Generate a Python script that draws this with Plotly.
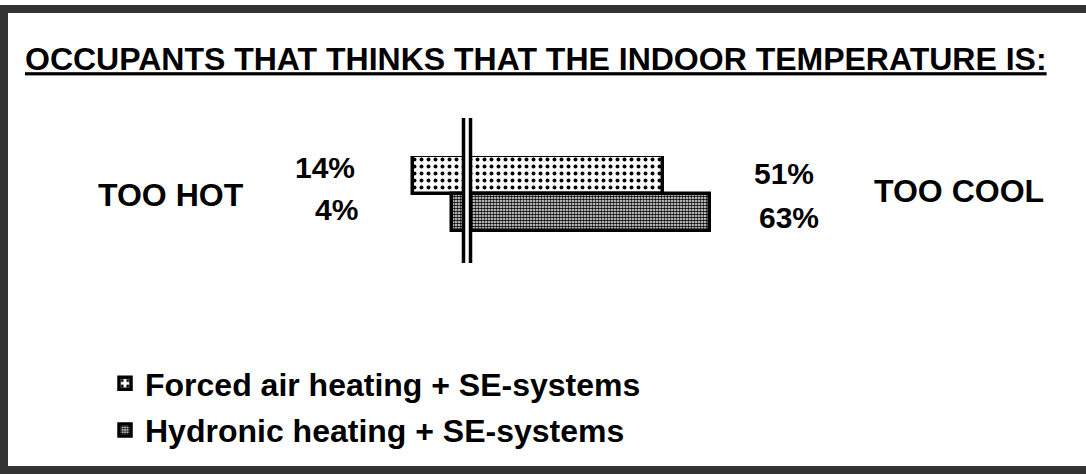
import plotly.graph_objects as go

# ---- data ----
categories = ["Forced air heating + SE-systems", "Hydronic heating + SE-systems"]
too_hot = [14, 4]      # % occupants: too hot
too_cool = [51, 63]    # % occupants: too cool
title_text = "OCCUPANTS THAT THINKS THAT THE INDOOR TEMPERATURE IS:"
left_label = "TOO HOT"
right_label = "TOO COOL"

W, H = 1086, 474
FONT = "Liberation Sans, Arial, Helvetica, sans-serif"

patterns = [
    dict(shape=".", fgcolor="black", bgcolor="white", size=7, solidity=0.25, fillmode="replace"),
    dict(shape=".", fgcolor="black", bgcolor="white", size=3, solidity=0.6, fillmode="replace"),
]

fig = go.Figure()
for i, cat in enumerate(categories):
    fig.add_trace(go.Bar(
        y=[cat],
        x=[too_hot[i] + too_cool[i]],
        base=[-too_hot[i]],
        orientation="h",
        name=cat,
        legendgroup=f"g{i}",
        width=1.0,
        marker=dict(color="white", line=dict(color="black", width=3.5), pattern=patterns[i]),
        hoverinfo="name",
    ))

def px_x(p):
    return p / W

def px_y(p):
    return (H - p) / H

annotations = []
# percentage labels
hot_x = [357, 360]
cool_x = [752, 757]
hot_shift = [7, 3]
cool_shift = [1, -5]
for i, cat in enumerate(categories):
    annotations.append(dict(
        text=f"{too_hot[i]}%", xref="paper", yref="y", x=px_x(hot_x[i]), y=cat,
        xanchor="right", yanchor="middle", yshift=hot_shift[i], showarrow=False,
        font=dict(size=30, family=FONT, color="black", weight="bold")))
    annotations.append(dict(
        text=f"{too_cool[i]}%", xref="paper", yref="y", x=px_x(cool_x[i]), y=cat,
        xanchor="left", yanchor="middle", yshift=cool_shift[i], showarrow=False,
        font=dict(size=30, family=FONT, color="black", weight="bold")))

annotations.append(dict(
    text=left_label, xref="paper", yref="paper", x=px_x(96), y=px_y(195),
    xanchor="left", yanchor="middle", showarrow=False,
    font=dict(size=32, family=FONT, color="black", weight="bold")))
annotations.append(dict(
    text=right_label, xref="paper", yref="paper", x=px_x(872), y=px_y(191),
    xanchor="left", yanchor="middle", showarrow=False,
    font=dict(size=32, family=FONT, color="black", weight="bold")))

shapes = [
    # outer frame
    dict(type="rect", xref="paper", yref="paper", x0=px_x(4), x1=px_x(1110),
         y0=px_y(470), y1=px_y(9), line=dict(color="#333333", width=8), layer="below"),
    # white gap at zero
    dict(type="line", xref="x", yref="paper", xsizemode="pixel", xanchor=0,
         x0=0, x1=0, y0=px_y(263), y1=px_y(118), line=dict(color="white", width=4), layer="above"),
    # double zero line
    dict(type="line", xref="x", yref="paper", xsizemode="pixel", xanchor=0,
         x0=-3.5, x1=-3.5, y0=px_y(263), y1=px_y(118), line=dict(color="black", width=3.5), layer="above"),
    dict(type="line", xref="x", yref="paper", xsizemode="pixel", xanchor=0,
         x0=3.5, x1=3.5, y0=px_y(263), y1=px_y(118), line=dict(color="black", width=3.5), layer="above"),
]

fig.update_layout(
    width=W, height=H,
    margin=dict(l=0, r=0, t=0, b=0),
    paper_bgcolor="white", plot_bgcolor="rgba(0,0,0,0)",
    barmode="overlay", bargap=0,
    title=dict(text=title_text, x=px_x(25), xanchor="left", y=px_y(59), yanchor="middle",
               font=dict(size=32, family=FONT, color="black", weight="bold", lineposition="under")),
    xaxis=dict(range=[-20, 80], domain=[px_x(390), px_x(775)], visible=False, fixedrange=True),
    yaxis=dict(categoryorder="array", categoryarray=categories, autorange="reversed",
               domain=[px_y(234), px_y(156)], visible=False, fixedrange=True),
    showlegend=True,
    legend=dict(x=px_x(105), xanchor="left", y=px_y(356), yanchor="top",
                traceorder="grouped", tracegroupgap=2,
                bgcolor="rgba(0,0,0,0)", borderwidth=0,
                font=dict(size=32, family=FONT, color="black", weight="bold")),
    annotations=annotations,
    shapes=shapes,
)

fig.write_html("out.html", config={"displayModeBar": False},
               post_script="document.body.style.margin='0';")
